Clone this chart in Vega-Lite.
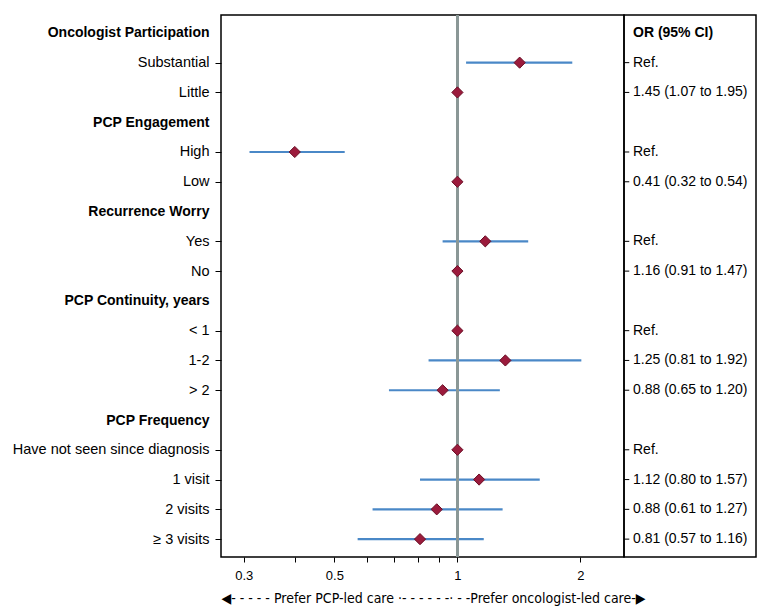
{
  "$schema": "https://vega.github.io/schema/vega-lite/v6.json",
  "background": "white",
  "padding": {"left": 11, "top": 13, "right": 5, "bottom": 5},
  "datasets": {
    "rows": [
      {"label": "Oncologist Participation", "or": null, "lo": null, "hi": null, "ortext": "OR (95% CI)"},
      {"label": "Substantial", "or": 1.42, "lo": 1.05, "hi": 1.91, "ortext": "Ref."},
      {"label": "Little", "or": 1, "lo": null, "hi": null, "ortext": "1.45 (1.07 to 1.95)"},
      {"label": "PCP Engagement", "or": null, "lo": null, "hi": null, "ortext": ""},
      {"label": "High", "or": 0.40, "lo": 0.31, "hi": 0.53, "ortext": "Ref."},
      {"label": "Low", "or": 1, "lo": null, "hi": null, "ortext": "0.41 (0.32 to 0.54)"},
      {"label": "Recurrence Worry", "or": null, "lo": null, "hi": null, "ortext": ""},
      {"label": "Yes", "or": 1.17, "lo": 0.92, "hi": 1.49, "ortext": "Ref."},
      {"label": "No", "or": 1, "lo": null, "hi": null, "ortext": "1.16 (0.91 to 1.47)"},
      {"label": "PCP Continuity, years", "or": null, "lo": null, "hi": null, "ortext": ""},
      {"label": "< 1", "or": 1, "lo": null, "hi": null, "ortext": "Ref."},
      {"label": "1-2", "or": 1.31, "lo": 0.85, "hi": 2.01, "ortext": "1.25 (0.81 to 1.92)"},
      {"label": "> 2", "or": 0.92, "lo": 0.68, "hi": 1.27, "ortext": "0.88 (0.65 to 1.20)"},
      {"label": "PCP Frequency", "or": null, "lo": null, "hi": null, "ortext": ""},
      {"label": "Have not seen since diagnosis", "or": 1, "lo": null, "hi": null, "ortext": "Ref."},
      {"label": "1 visit", "or": 1.13, "lo": 0.81, "hi": 1.59, "ortext": "1.12 (0.80 to 1.57)"},
      {"label": "2 visits", "or": 0.89, "lo": 0.62, "hi": 1.29, "ortext": "0.88 (0.61 to 1.27)"},
      {"label": "≥ 3 visits", "or": 0.81, "lo": 0.57, "hi": 1.16, "ortext": "0.81 (0.57 to 1.16)"}
    ]
  },
  "hconcat": [
    {
      "width": 403,
      "height": 542,
      "data": {"name": "rows"},
      "layer": [
        {
          "mark": {"type": "rule", "color": "#4a88c7", "strokeWidth": 2.2},
          "encoding": {
            "y": {
              "field": "label", "type": "nominal",
              "scale": {"type": "point", "padding": 0.6, "domain": ["Oncologist Participation", "Substantial", "Little", "PCP Engagement", "High", "Low", "Recurrence Worry", "Yes", "No", "PCP Continuity, years", "< 1", "1-2", "> 2", "PCP Frequency", "Have not seen since diagnosis", "1 visit", "2 visits", "≥ 3 visits"]},
              "axis": {
                "orient": "left", "title": null, "domain": false, "grid": false,
                "tickSize": 6, "tickColor": "black", "tickWidth": 1,
                "labelPadding": 6, "labelLimit": 400,
                "labelFont": "Liberation Sans", "labelColor": "black",
                "labelFontSize": {"condition": {"test": "indexof(['Oncologist Participation','PCP Engagement','Recurrence Worry','PCP Continuity, years','PCP Frequency'], datum.value) >= 0", "value": 14}, "value": 14.5},
                "labelFontWeight": {"condition": {"test": "indexof(['Oncologist Participation','PCP Engagement','Recurrence Worry','PCP Continuity, years','PCP Frequency'], datum.value) >= 0", "value": "bold"}, "value": "normal"},
                "tickOpacity": {"condition": {"test": "indexof(['Oncologist Participation','PCP Engagement','Recurrence Worry','PCP Continuity, years','PCP Frequency'], datum.value) >= 0", "value": 0}, "value": 1}
              }
            },
            "x": {
              "field": "lo", "type": "quantitative",
              "title": "◀- - - - -  Prefer PCP-led care  ·- - - - - -·        - -Prefer oncologist-led care-▶",
              "scale": {"type": "log", "domain": [0.264, 2.556], "nice": false},
              "axis": {
                "values": [0.3, 0.4, 0.5, 0.6, 0.7, 0.8, 0.9, 1, 2],
                "labelExpr": "(datum.value == 0.3 || datum.value == 0.5 || datum.value == 1 || datum.value == 2) ? datum.label : ''",
                "domain": false, "grid": false, "tickSize": 5, "tickColor": "black", "tickWidth": 1,
                "labelPadding": 7, "labelFontSize": 13, "labelFont": "Liberation Sans", "labelColor": "black",
                "labelFlush": false,
                "titleFont": "Liberation Sans Narrow, Arial Narrow, DejaVu Sans Condensed, sans-serif",
                "titleFontSize": 14, "titleFontWeight": "normal", "titleColor": "black",
                "titleAnchor": "start", "titleAlign": "left", "titlePadding": 9
              }
            },
            "x2": {"field": "hi"}
          }
        },
        {
          "mark": {"type": "rule", "color": "#8a9896", "strokeWidth": 2},
          "encoding": {
            "x": {"datum": 1, "type": "quantitative", "title": "◀- - - - -  Prefer PCP-led care  ·- - - - - -·        - -Prefer oncologist-led care-▶"}
          }
        },
        {
          "mark": {"type": "point", "shape": "diamond", "filled": true, "fill": "#9b1b3c", "stroke": "#6a0e25", "strokeWidth": 1, "size": 125, "opacity": 1},
          "encoding": {
            "y": {"field": "label", "type": "nominal"},
            "x": {"field": "or", "type": "quantitative", "title": "◀- - - - -  Prefer PCP-led care  ·- - - - - -·        - -Prefer oncologist-led care-▶"}
          }
        }
      ]
    },
    {
      "width": 132,
      "height": 542,
      "data": {"name": "rows"},
      "encoding": {
        "y": {
          "field": "label", "type": "nominal", "axis": null,
          "scale": {"type": "point", "padding": 0.6, "domain": ["Oncologist Participation", "Substantial", "Little", "PCP Engagement", "High", "Low", "Recurrence Worry", "Yes", "No", "PCP Continuity, years", "< 1", "1-2", "> 2", "PCP Frequency", "Have not seen since diagnosis", "1 visit", "2 visits", "≥ 3 visits"]}
        }
      },
      "layer": [
        {
          "transform": [{"filter": "datum.ortext !== '' && datum.ortext !== 'OR (95% CI)'"}],
          "mark": {"type": "rule", "color": "black", "strokeWidth": 1},
          "encoding": {
            "x": {"datum": 0, "type": "quantitative", "scale": {"domain": [0, 1]}, "axis": null},
            "x2": {"datum": 0.04}
          }
        },
        {
          "transform": [{"filter": "datum.ortext !== 'OR (95% CI)'"}],
          "mark": {"type": "text", "align": "left", "baseline": "middle", "dx": 9, "fontSize": 14, "font": "Liberation Sans", "color": "black"},
          "encoding": {
            "x": {"datum": 0, "type": "quantitative", "scale": {"domain": [0, 1]}, "axis": null},
            "text": {"field": "ortext"}
          }
        },
        {
          "transform": [{"filter": "datum.ortext === 'OR (95% CI)'"}],
          "mark": {"type": "text", "align": "left", "baseline": "middle", "dx": 9, "fontSize": 14, "fontWeight": "bold", "font": "Liberation Sans", "color": "black"},
          "encoding": {
            "x": {"datum": 0, "type": "quantitative", "scale": {"domain": [0, 1]}, "axis": null},
            "text": {"field": "ortext"}
          }
        }
      ]
    }
  ],
  "spacing": 0,
  "bounds": "flush",
  "config": {
    "view": {"stroke": "black", "strokeWidth": 1.5},
    "font": "Liberation Sans"
  }
}
